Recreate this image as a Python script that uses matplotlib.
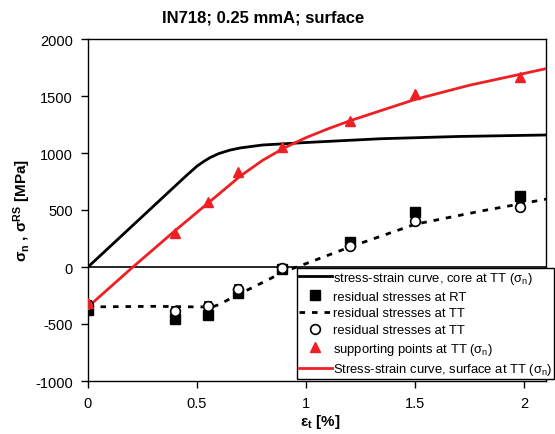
import numpy as np
import matplotlib.pyplot as plt
from matplotlib.lines import Line2D

plt.rcParams['font.family'] = ['Liberation Sans', 'DejaVu Sans']
plt.rcParams['axes.unicode_minus'] = False
plt.rcParams['mathtext.fontset'] = 'custom'
plt.rcParams['mathtext.rm'] = 'Liberation Sans'
plt.rcParams['mathtext.it'] = 'Liberation Sans'
plt.rcParams['mathtext.bf'] = 'Liberation Sans:bold'

# stress-strain curve, core at TT
core_x = [0, 0.45, 0.5, 0.53, 0.56, 0.6, 0.65, 0.7, 0.8, 1.0, 1.34, 1.7, 2.1]
core_y = [0, 800, 885, 925, 960, 995, 1025, 1045, 1070, 1092, 1125, 1145, 1158]

# stress-strain curve, surface at TT
surf_x = [0, 0.2, 0.4, 0.55, 0.7, 0.8, 0.9, 1.0, 1.1, 1.2, 1.34, 1.5, 1.75, 2.0, 2.1]
surf_y = [-350, -10, 320, 560, 800, 935, 1045, 1135, 1212, 1282, 1370, 1470, 1595, 1698, 1740]

# supporting points at TT
supp_x = [0, 0.4, 0.55, 0.69, 0.89, 1.2, 1.5, 1.98]
supp_y = [-320, 300, 570, 830, 1050, 1280, 1520, 1665]

# residual stresses
rs_x = [0, 0.4, 0.55, 0.69, 0.89, 1.2, 1.5, 1.98]
rs_rt = [-375, -460, -420, -225, -20, 215, 480, 625]
rs_tt = [-330, -385, -345, -190, -10, 185, 400, 530]
rs_err = [35, 35, 35, 30, 30, 30, 35, 35]

# fitted residual stresses at TT (dashed)
fit_x = [0, 0.3, 0.5, 0.57, 0.6, 0.65, 0.7, 0.76, 0.9, 1.0, 1.2, 1.5, 1.8, 2.0, 2.1]
fit_y = [-350, -345, -350, -350, -330, -280, -230, -175, -40, 30, 175, 375, 490, 560, 595]

red = '#ee2024'

fig = plt.figure(figsize=(5.55, 4.35), dpi=100)
ax = fig.add_axes([88 / 555, 1 - 382 / 435, (546 - 88) / 555, (382 - 40) / 435])

ax.axhline(0, color='black', lw=1.2, zorder=1)
ax.plot(core_x, core_y, color='black', lw=2, zorder=3)
ax.plot(fit_x, fit_y, color='black', lw=2, ls=(0, (2, 2.5)), zorder=3)
ax.plot(surf_x, surf_y, color=red, lw=2, zorder=3)
ax.errorbar(rs_x, rs_rt, yerr=rs_err, fmt='s', color='black', ms=6.5,
            capsize=3, elinewidth=1, zorder=4)
ax.errorbar(rs_x, rs_tt, yerr=rs_err, fmt='o', mfc='white', mec='black', ecolor='black',
            ms=7, mew=1.2, capsize=3, elinewidth=1, zorder=5)
ax.plot(supp_x, supp_y, '^', color=red, ms=7.5, zorder=6)

ax.set_xlim(0, 2.1)
ax.set_ylim(-1000, 2000)
ax.set_xticks([0, 0.5, 1, 1.5, 2])
ax.set_xticklabels(['0', '0.5', '1', '1.5', '2'])
ax.set_yticks([-1000, -500, 0, 500, 1000, 1500, 2000])
ax.tick_params(direction='out', length=5, width=1, labelsize=10.5, pad=6)
for s in ax.spines.values():
    s.set_linewidth(1)

fig.text(263 / 555, 1 - 18 / 435, 'IN718; 0.25 mmA; surface', ha='center', va='center',
         fontsize=12, fontweight='bold')
fig.text(22 / 555, 1 - 211 / 435, r'$\mathbf{\sigma_n}$ , $\mathbf{\sigma^{RS}}$ [MPa]',
         rotation=90, ha='center', va='center', fontsize=11, fontweight='bold')
fig.text(320 / 555, 1 - 422 / 435, r'$\mathbf{\varepsilon_t}$ [%]', ha='center', va='center',
         fontsize=11, fontweight='bold')

handles = [
    Line2D([], [], color='black', lw=2),
    Line2D([], [], marker='s', color='black', ls='none', ms=6.5),
    Line2D([], [], color='black', lw=2, ls=(0, (2, 2.5))),
    Line2D([], [], marker='o', mfc='white', mec='black', ls='none', ms=7, mew=1.2),
    Line2D([], [], marker='^', color=red, ls='none', ms=7.5),
    Line2D([], [], color=red, lw=2),
]
labels = [
    r'stress-strain curve, core at TT ($\sigma_n$)',
    'residual stresses at RT',
    'residual stresses at TT',
    'residual stresses at TT',
    r'supporting points at TT ($\sigma_n$)',
    r'Stress-strain curve, surface at TT ($\sigma_n$)',
]
leg = fig.legend(handles, labels, loc='upper left', bbox_to_anchor=(297 / 555, 1 - 269 / 435),
                 frameon=True, fancybox=False, edgecolor='black', framealpha=1,
                 fontsize=9.4, borderpad=0.15, labelspacing=0.35, handlelength=2.5,
                 handletextpad=0.1, borderaxespad=0)
leg.get_frame().set_linewidth(1)
leg.set_zorder(10)

fig.savefig('out.png', dpi=100)
